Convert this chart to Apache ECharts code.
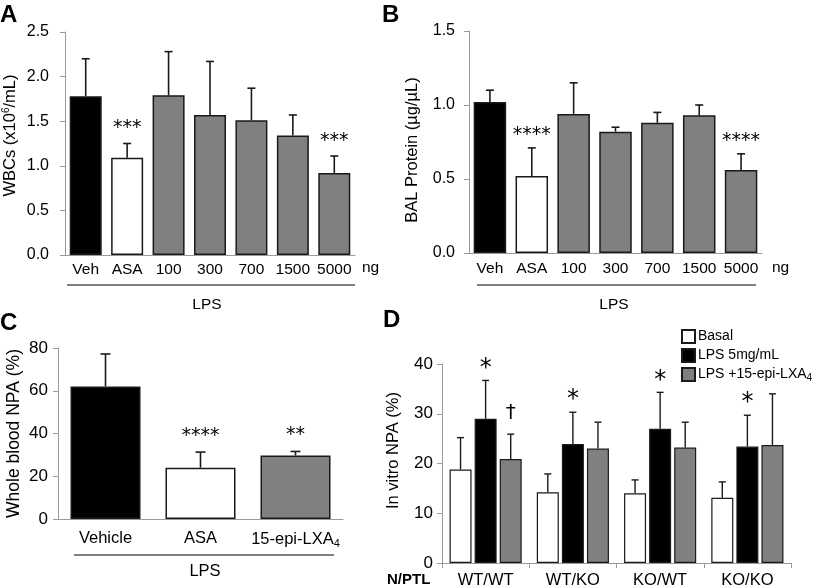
<!DOCTYPE html>
<html><head><meta charset="utf-8">
<script src="https://cdn.jsdelivr.net/npm/echarts@6/dist/echarts.min.js"></script>
<style>html,body{margin:0;padding:0;background:#fff}#c{width:817px;height:587px}</style>
</head><body><div id="c"></div>
<script>
// ---------- DATA ----------
// Panel A: WBCs (x10^6/mL)
const catA = ['Veh','ASA','100','300','700','1500','5000'];
const valA = [1.78, 1.09, 1.79, 1.57, 1.51, 1.34, 0.92];
const semA = [0.42, 0.16, 0.49, 0.60, 0.36, 0.23, 0.19];
const sigA = ['', '***', '', '', '', '', '***'];
// Panel B: BAL Protein (ug/uL)
const catB = ['Veh','ASA','100','300','700','1500','5000'];
const valB = [1.02, 0.52, 0.94, 0.82, 0.88, 0.93, 0.56];
const semB = [0.08, 0.19, 0.21, 0.03, 0.07, 0.07, 0.11];
const sigB = ['', '****', '', '', '', '', '****'];
// Panel C: Whole blood NPA (%)
const catC = ['Vehicle','ASA','15-epi-LXA4'];
const valC = [62.0, 24.0, 29.7];
const semC = [15.2, 7.3, 1.9];
const sigC = ['', '****', '**'];
// Panel D: In vitro NPA (%)
const catD = ['WT/WT','WT/KO','KO/WT','KO/KO'];
const seriesD = ['Basal','LPS 5mg/mL','LPS +15-epi-LXA4'];
const basalD = [18.8, 14.2, 14.0, 13.1];
const basalSemD = [6.4, 3.7, 2.7, 3.2];
const lpsD = [29.0, 23.9, 27.0, 23.4];
const lpsSemD = [7.7, 6.4, 7.3, 6.3];
const epiD = [20.9, 23.0, 23.2, 23.7];
const epiSemD = [5.0, 5.3, 5.1, 10.3];
const sigLpsD = ['*', '*', '*', '*'];
const sigEpiD = ['\u2020', '', '', ''];

// ---------- STYLE ----------
const FONT = 'Liberation Sans, Arial, sans-serif';
const STAR_FONT = 'DejaVu Sans, sans-serif';
const AX = '#9a9a9a';
const EDGE = '#1a1a1a';
const colorsABC = { 'Veh':'#000000','Vehicle':'#000000','ASA':'#ffffff' };
const GRAY = '#808080';
function barColor(c){ return colorsABC[c] || GRAY; }

const chart = echarts.init(document.getElementById('c'), null, {renderer:'canvas'});

function yAxis(gi, max, interval, name, gap, fs, margin, dec, nfs, npad){
  return {
    type:'value', gridIndex:gi, min:0, max:max, interval:interval,
    name:name, nameLocation:'middle', nameGap:gap,
    nameTextStyle:{fontSize:nfs, color:'#000', fontFamily:FONT, padding:npad,
      rich:{sup:{fontSize:10, verticalAlign:'top', padding:[0,0,8,0], fontFamily:FONT, color:'#000'}}},
    axisLine:{show:true, lineStyle:{color:AX, width:1}},
    axisTick:{show:true, length:5, lineStyle:{color:AX}},
    axisLabel:{fontSize:fs, color:'#000', margin:margin, fontFamily:FONT,
      formatter: v => dec ? v.toFixed(1) : String(v)},
    splitLine:{show:false}
  };
}
function xAxis(gi, cats, fs, margin, ticks){
  return {
    type:'category', gridIndex:gi, data:cats,
    axisLine:{show:true, lineStyle:{color:AX, width:1}},
    axisTick:{show:ticks, length:5, lineStyle:{color:AX}},
    axisLabel:{fontSize:fs, color:'#000', margin:margin, fontFamily:FONT, interval:0,
      formatter: v => v.replace(/LXA4$/, 'LXA{sub|4}'),
      rich:{sub:{fontSize:11, verticalAlign:'bottom', padding:[8,0,0,0], fontFamily:FONT, color:'#000'}}},
    splitLine:{show:false}
  };
}
function barSeries(ai, cats, vals, bw){
  return {
    type:'bar', xAxisIndex:ai, yAxisIndex:ai, barWidth:bw, silent:true,
    data: vals.map((v,i)=>({value:v, itemStyle:{color:barColor(cats[i]), borderColor:EDGE, borderWidth:1.5}})),
    z:2
  };
}
function errSeries(ai, vals, sems, off, capW, lw){
  return {
    type:'custom', xAxisIndex:ai, yAxisIndex:ai, z:5, silent:true,
    data: vals.map((v,i)=>[i, v, sems[i]]),
    encode:{x:0, y:1},
    renderItem:(p, api)=>{
      const i=api.value(0), v=api.value(1), e=api.value(2);
      const a=api.coord([i,v]), b=api.coord([i,v+e]);
      const x=a[0]+off;
      return {type:'group', children:[
        {type:'line', shape:{x1:x,y1:a[1],x2:x,y2:b[1]}, style:{stroke:EDGE, lineWidth:lw}},
        {type:'line', shape:{x1:x-capW/2,y1:b[1],x2:x+capW/2,y2:b[1]}, style:{stroke:EDGE, lineWidth:lw}}
      ]};
    }
  };
}
function sigSeries(ai, vals, sems, sig, off, fs, dy){
  return {
    type:'custom', xAxisIndex:ai, yAxisIndex:ai, z:6, silent:true,
    data: vals.map((v,i)=>[i, v+sems[i]]),
    encode:{x:0, y:1},
    renderItem:(p, api)=>{
      const s=sig[p.dataIndex];
      if(!s) return null;
      const b=api.coord([api.value(0), api.value(1)]);
      return {type:'text', x:b[0]+off, y:b[1]-dy,
        style:{text:s, fontSize:fs, fontFamily:STAR_FONT, fill:'#000', align:'center', verticalAlign:'middle'}};
    }
  };
}

const BWD = 22, GAPD = '14%';
const OFFD = BWD*1.14;

const option = {
  animation:false,
  backgroundColor:'#fff',
  textStyle:{fontFamily:FONT},
  grid:[
    {left:65, top:32, width:290, height:223, outerBoundsMode:'none'},
    {left:469, top:31, width:293, height:222, outerBoundsMode:'none'},
    {left:58, top:348, width:285, height:171, outerBoundsMode:'none'},
    {left:442, top:364, width:349, height:199, outerBoundsMode:'none'}
  ],
  xAxis:[
    xAxis(0, catA, 15.5, 7, false),
    xAxis(1, catB, 15.5, 8, false),
    xAxis(2, catC, 16.5, 11, false),
    xAxis(3, catD, 16.5, 9, true)
  ],
  yAxis:[
    yAxis(0, 2.5, 0.5, 'WBCs (x10{sup|6}/mL)', 46, 16, 16, true, 16.5, [0,0,0,16]),
    yAxis(1, 1.5, 0.5, 'BAL Protein (\u00b5g/\u00b5L)', 48, 16, 14, true, 16.5, [0,16,0,0]),
    yAxis(2, 80, 20, 'Whole blood NPA (%)', 35, 17, 10, false, 17.5, [0,0,0,0]),
    yAxis(3, 40, 10, 'In vitro NPA (%)', 40, 17, 9, false, 16.5, [0,0,0,26])
  ],
  legend:{
    show:true, data:seriesD, orient:'vertical', left:681, top:329,
    itemWidth:13, itemHeight:13, itemGap:4, padding:0, icon:'rect',
    textStyle:{fontSize:14, color:'#000', fontFamily:FONT, padding:[0,0,0,-2],
      rich:{sub:{fontSize:10, verticalAlign:'bottom', padding:[8,0,0,0], fontFamily:FONT, color:'#000'}}},
    formatter: n => n.replace(/LXA4$/, 'LXA{sub|4}'),
    selectedMode:false
  },
  series:[
    barSeries(0, catA, valA, 32),
    errSeries(0, valA, semA, 0, 8, 1.6),
    sigSeries(0, valA, semA, sigA, 0, 19, 15),
    barSeries(1, catB, valB, 32.5),
    errSeries(1, valB, semB, 0, 8, 1.6),
    sigSeries(1, valB, semB, sigB, 0, 19, 13),
    barSeries(2, catC, valC, 70),
    errSeries(2, valC, semC, 0, 10, 1.6),
    sigSeries(2, valC, semC, sigC, 0, 19, 16),
    {name:seriesD[0], type:'bar', xAxisIndex:3, yAxisIndex:3, barWidth:BWD, barGap:GAPD, data:basalD,
      itemStyle:{color:'#ffffff', borderColor:EDGE, borderWidth:1.2}, silent:true},
    {name:seriesD[1], type:'bar', xAxisIndex:3, yAxisIndex:3, barWidth:BWD, barGap:GAPD, data:lpsD,
      itemStyle:{color:'#000000', borderColor:EDGE, borderWidth:1.2}, silent:true},
    {name:seriesD[2], type:'bar', xAxisIndex:3, yAxisIndex:3, barWidth:BWD, barGap:GAPD, data:epiD,
      itemStyle:{color:GRAY, borderColor:EDGE, borderWidth:1.2}, silent:true},
    errSeries(3, basalD, basalSemD, -OFFD, 7, 1.4),
    errSeries(3, lpsD, lpsSemD, 0, 7, 1.4),
    errSeries(3, epiD, epiSemD, OFFD, 7, 1.4),
    sigSeries(3, lpsD, lpsSemD, sigLpsD, 0, 24, 12),
    sigSeries(3, epiD, epiSemD, sigEpiD, OFFD, 20, 21)
  ],
  graphic:[
    {type:'text', left:0, top:3, style:{text:'A', font:'bold 24px Liberation Sans, Arial', fill:'#000'}},
    {type:'text', left:382, top:3, style:{text:'B', font:'bold 24px Liberation Sans, Arial', fill:'#000'}},
    {type:'text', left:0, top:311, style:{text:'C', font:'bold 24px Liberation Sans, Arial', fill:'#000'}},
    {type:'text', left:383, top:308, style:{text:'D', font:'bold 24px Liberation Sans, Arial', fill:'#000'}},
    {type:'text', x:362, y:268, style:{text:'ng', font:'15.5px Liberation Sans, Arial', fill:'#000', verticalAlign:'middle'}},
    {type:'text', x:772, y:268, style:{text:'ng', font:'15.5px Liberation Sans, Arial', fill:'#000', verticalAlign:'middle'}},
    {type:'line', shape:{x1:67,y1:285,x2:355,y2:285}, style:{stroke:'#000', lineWidth:1}},
    {type:'line', shape:{x1:477,y1:285,x2:756,y2:285}, style:{stroke:'#000', lineWidth:1}},
    {type:'line', shape:{x1:74,y1:555,x2:334,y2:555}, style:{stroke:'#000', lineWidth:1}},
    {type:'text', x:207, y:305, style:{text:'LPS', font:'15.5px Liberation Sans, Arial', fill:'#000', align:'center', verticalAlign:'middle'}},
    {type:'text', x:614, y:305, style:{text:'LPS', font:'15.5px Liberation Sans, Arial', fill:'#000', align:'center', verticalAlign:'middle'}},
    {type:'text', x:205, y:571, style:{text:'LPS', font:'16.5px Liberation Sans, Arial', fill:'#000', align:'center', verticalAlign:'middle'}},
    {type:'text', x:387, y:580, style:{text:'N/PTL', font:'bold 15px Liberation Sans, Arial', fill:'#000', verticalAlign:'middle'}}
  ]
};
chart.setOption(option);
</script>
</body></html>
